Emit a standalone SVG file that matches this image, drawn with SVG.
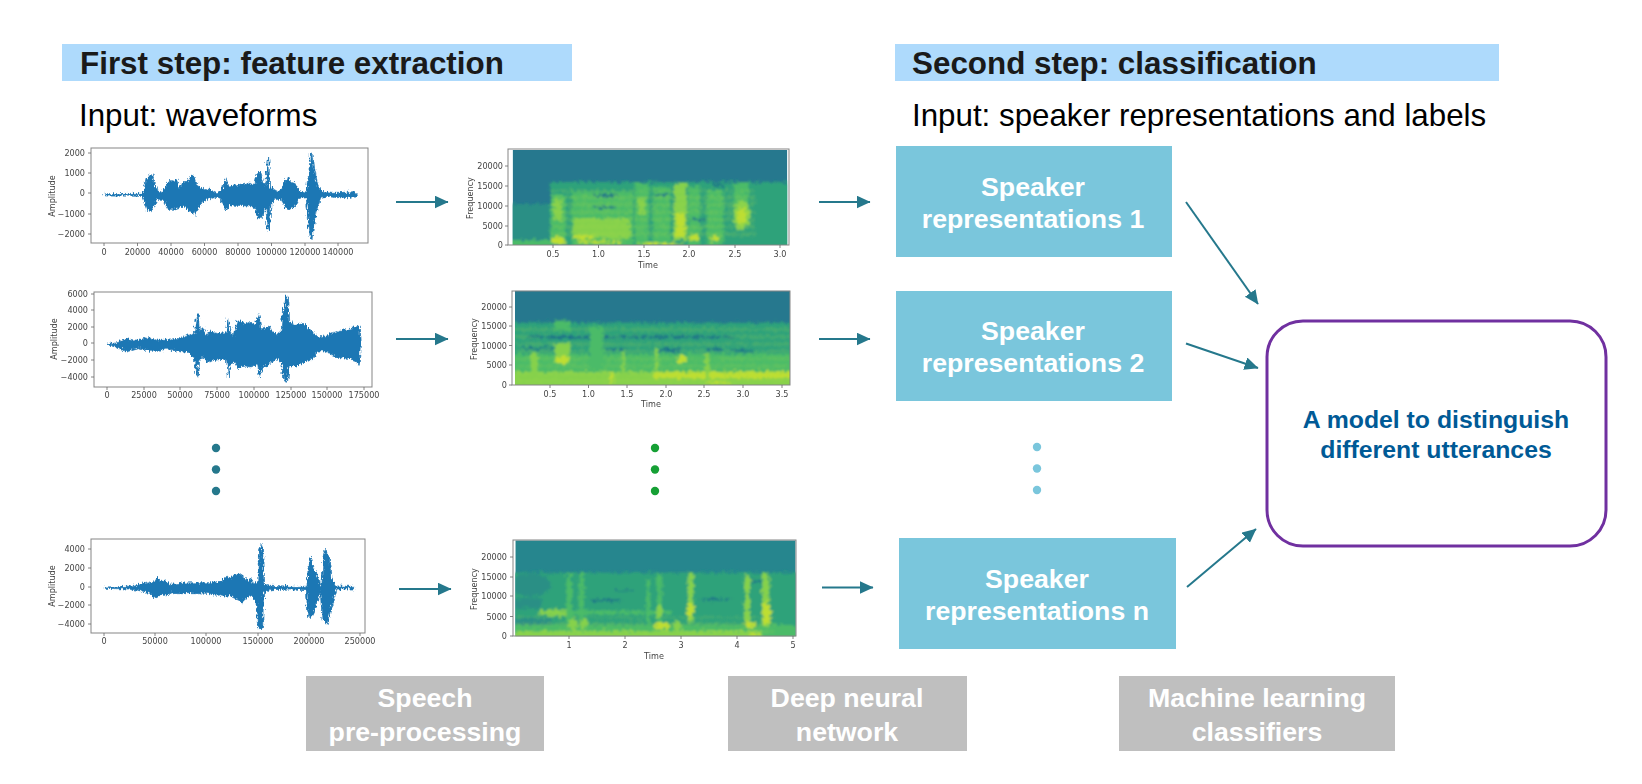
<svg xmlns="http://www.w3.org/2000/svg" width="1642" height="784" viewBox="0 0 1642 784">
<style>
text{font-family:"Liberation Sans",Arial,sans-serif}
.hb{fill:#aedafc}
.h{font-size:31.400px;font-weight:700;fill:#1a1a1a}
.i{font-size:31.300px;fill:#000}
.b{fill:#7ac6dc}
.w{font-size:26.700px;font-weight:700;fill:#fff;text-anchor:middle}
.g{fill:#bfbfbf}
.m{font-size:24.800px;font-weight:700;fill:#005a96;text-anchor:middle}
.plot text{font-family:"DejaVu Sans",sans-serif;font-size:8.100px;fill:#444}
.plot .c{text-anchor:middle}
.plot .r{text-anchor:end}
.fr{fill:none;stroke:#858585;stroke-width:1}
.tk{stroke:#666;stroke-width:.8;fill:none}
.wave{fill:#1f77b4;stroke:#1f77b4;stroke-width:2;stroke-linejoin:round;filter:url(#jag)}
.cn{stroke:#25788c;stroke-width:2;fill:none;marker-end:url(#ah)}
.top{fill:#26788e}.bd{fill:#2fa27a}.lo{fill:#2a8f85}.g1{fill:#4cbb68}.g2{fill:#86d14c}.ye{fill:#bede30}.dk{fill:#1f7388}
</style>
<defs>
<marker id="ah" markerUnits="userSpaceOnUse" markerWidth="15" markerHeight="14" refX="13.500" refY="6.500" orient="auto"><path d="M0,0L14,6.500L0,13Z" fill="#25788c"/></marker>
<filter id="b1" x="-5%" y="-5%" width="110%" height="110%">
<feTurbulence type="fractalNoise" baseFrequency="0.09 0.14" numOctaves="2" seed="4" result="n"/>
<feDisplacementMap in="SourceGraphic" in2="n" scale="26" xChannelSelector="R" yChannelSelector="G"/>
<feGaussianBlur stdDeviation="3"/>
</filter>
<filter id="jag" x="-3%" y="-15%" width="106%" height="130%">
<feTurbulence type="turbulence" baseFrequency="0.35 0.05" numOctaves="2" seed="7" result="n"/>
<feDisplacementMap in="SourceGraphic" in2="n" scale="16" xChannelSelector="G" yChannelSelector="R"/>
</filter>
<filter id="b2" x="-2%" y="-5%" width="104%" height="110%"><feGaussianBlur stdDeviation="0.45"/></filter>
<pattern id="st" width="10" height="22" patternUnits="userSpaceOnUse"><rect width="10" height="9" fill="#a8dc48" fill-opacity=".35"/></pattern>
<clipPath id="c1"><rect x="218" y="60" width="824" height="285"/></clipPath>
<clipPath id="c2"><rect x="225" y="482" width="825" height="283"/></clipPath>
<clipPath id="c3"><rect x="226" y="61" width="841" height="288"/></clipPath>
</defs>
<rect width="1642" height="784" fill="#fff"/>

<g id="header-first"><rect class="hb" x="62" y="44" width="510" height="37"/><text class="h" x="80" y="74">First step: feature extraction</text></g>
<g id="input-first"><text class="i" x="79" y="126">Input: waveforms</text></g>
<g id="header-second"><rect class="hb" x="895" y="44" width="604" height="37"/><text class="h" x="912" y="74">Second step: classification</text></g>
<g id="input-second"><text class="i" x="912" y="126">Input: speaker representations and labels</text></g>

<g id="waveform-1" class="plot" filter="url(#b2)">
<path class="wave" transform="translate(30,130) scale(.3333)" d="M220,188L330,187L338,180L345,145L355,132L362,128L368,150L378,178L392,185L402,165L415,148L425,150L438,146L445,170L452,155L470,150L482,130L490,140L497,165L515,172L535,175L555,185L562,183L575,170L582,140L590,165L610,162L650,156L668,160L675,130L685,120L695,150L705,165L708,85L714,85L716,170L725,172L740,180L752,172L765,150L770,135L775,150L790,155L805,180L825,183L833,130L838,70L843,65L848,110L855,150L870,180L900,184L950,184L970,181L977,190L970,196L950,200L900,195L870,198L855,240L848,280L843,325L838,322L832,260L825,198L805,198L790,225L772,237L765,230L750,205L735,205L720,215L716,290L712,300L708,290L705,225L690,262L680,260L672,230L650,225L600,222L585,240L578,225L565,198L555,196L530,205L510,215L497,235L490,250L480,245L460,225L440,230L425,235L410,235L395,205L378,205L368,225L358,242L348,235L338,210L330,193L220,192Z"/>
<rect class="fr" x="91" y="148" width="277" height="95"/>
<path class="tk" d="M88,153h3M88,173h3M88,193h3M88,214h3M88,234h3M104,243v3M137.500,243v3M171,243v3M204.500,243v3M238,243v3M271.500,243v3M305,243v3M338,243v3"/>
<text class="r" x="85" y="156">2000</text><text class="r" x="85" y="176">1000</text><text class="r" x="85" y="196">0</text><text class="r" x="85" y="217">−1000</text><text class="r" x="85" y="237">−2000</text>
<text class="c" x="104" y="255">0</text><text class="c" x="137.500" y="255">20000</text><text class="c" x="171" y="255">40000</text><text class="c" x="204.500" y="255">60000</text><text class="c" x="238" y="255">80000</text><text class="c" x="271.500" y="255">100000</text><text class="c" x="305" y="255">120000</text><text class="c" x="338" y="255">140000</text>
<text class="c" transform="translate(55,196) rotate(-90)">Amplitude</text>
</g>

<g id="waveform-2" class="plot" filter="url(#b2)">
<path class="wave" transform="translate(30,130) scale(.3333)" d="M228,640L245,635L262,630L285,622L295,625L320,628L350,620L380,625L410,625L440,622L470,612L490,605L497,548L502,548L505,600L515,590L525,612L535,600L565,606L585,605L592,562L597,600L605,615L618,570L630,570L640,580L655,572L670,580L683,545L690,590L700,590L715,585L722,598L735,610L750,605L755,530L760,535L765,495L770,495L773,570L790,580L815,575L830,590L850,605L860,618L885,615L905,605L925,598L950,596L975,585L985,582L988,640L985,700L975,690L950,682L925,680L905,672L885,660L860,660L840,685L820,695L795,705L775,705L770,750L765,755L758,745L752,695L735,680L715,700L695,710L685,738L680,700L660,708L640,705L620,710L610,690L597,700L592,738L587,690L565,685L540,690L530,695L515,675L503,690L500,735L495,732L490,680L470,665L445,658L410,655L380,658L350,658L320,650L285,660L262,650L245,645Z"/>
<rect class="fr" x="94" y="292" width="278" height="95"/>
<path class="tk" d="M91,294h3M91,310h3M91,327h3M91,343h3M91,360h3M91,377h3M107,387v3M144,387v3M180,387v3M217,387v3M254,387v3M291,387v3M327,387v3M364,387v3"/>
<text class="r" x="88" y="297">6000</text><text class="r" x="88" y="313">4000</text><text class="r" x="88" y="330">2000</text><text class="r" x="88" y="346">0</text><text class="r" x="88" y="363">−2000</text><text class="r" x="88" y="380">−4000</text>
<text class="c" x="107" y="398">0</text><text class="c" x="144" y="398">25000</text><text class="c" x="180" y="398">50000</text><text class="c" x="217" y="398">75000</text><text class="c" x="254" y="398">100000</text><text class="c" x="291" y="398">125000</text><text class="c" x="327" y="398">150000</text><text class="c" x="364" y="398">175000</text>
<text class="c" transform="translate(57,339) rotate(-90)">Amplitude</text>
</g>

<g id="waveform-n" class="plot" filter="url(#b2)">
<path class="wave" transform="translate(30,520) scale(.3333)" d="M220,198L290,196L320,190L340,185L355,182L365,185L375,168L385,178L400,178L420,190L450,186L500,185L540,185L570,180L580,170L600,168L620,155L635,165L650,180L658,170L665,185L680,185L683,85L690,70L695,85L698,190L720,193L780,196L828,196L832,130L838,105L848,145L858,160L868,195L873,190L876,105L882,87L895,105L900,170L915,195L968,196L968,204L915,204L900,260L888,310L880,300L873,295L868,210L858,240L848,270L838,290L830,270L826,206L780,204L720,206L698,215L695,320L690,325L680,318L675,240L660,225L650,228L632,245L620,235L600,225L580,225L560,220L500,215L450,215L420,215L405,225L395,218L370,230L360,218L340,212L320,208L290,204L220,202Z"/>
<rect class="fr" x="91" y="539" width="274" height="94"/>
<path class="tk" d="M88,549h3M88,568h3M88,587h3M88,605h3M88,624h3M104,633v3M155,633v3M206,633v3M258,633v3M309,633v3M360,633v3"/>
<text class="r" x="85" y="552">4000</text><text class="r" x="85" y="571">2000</text><text class="r" x="85" y="590">0</text><text class="r" x="85" y="608">−2000</text><text class="r" x="85" y="627">−4000</text>
<text class="c" x="104" y="644">0</text><text class="c" x="155" y="644">50000</text><text class="c" x="206" y="644">100000</text><text class="c" x="258" y="644">150000</text><text class="c" x="309" y="644">200000</text><text class="c" x="360" y="644">250000</text>
<text class="c" transform="translate(55,586) rotate(-90)">Amplitude</text>
</g>

<g id="spectrogram-1" class="plot" filter="url(#b2)">
<g transform="translate(440,130) scale(.3333)">
<g clip-path="url(#c1)"><rect class="top" x="218" y="60" width="824" height="285"/>
<g filter="url(#b1)">
<rect class="bd" x="330" y="156" width="740" height="220"/>
<rect class="lo" x="190" y="222" width="140" height="150"/>
<rect class="g1" x="190" y="330" width="148" height="30"/>
<rect class="g1" x="332" y="195" width="45" height="150"/><rect class="g2" x="342" y="210" width="24" height="60"/>
<rect class="g1" x="395" y="185" width="185" height="170"/><rect class="g2" x="400" y="265" width="170" height="60"/>
<rect class="g1" x="585" y="160" width="40" height="190"/><rect class="g2" x="595" y="205" width="18" height="50"/>
<rect class="g1" x="640" y="170" width="50" height="180"/>
<rect class="g2" x="702" y="160" width="38" height="170"/><rect class="ye" x="708" y="250" width="28" height="70"/>
<rect class="g1" x="745" y="170" width="35" height="180"/><rect class="g1" x="800" y="180" width="50" height="170"/>
<rect class="g1" x="880" y="160" width="45" height="70"/><ellipse class="g2" cx="905" cy="255" rx="26" ry="45"/><ellipse class="ye" cx="905" cy="258" rx="16" ry="24"/>
<rect x="335" y="180" width="610" height="150" fill="url(#st)" opacity=".6"/>
<ellipse class="dk" cx="495" cy="196" rx="40" ry="5"/><ellipse class="dk" cx="495" cy="232" rx="38" ry="3.500"/><ellipse class="dk" cx="665" cy="194" rx="22" ry="4"/><ellipse class="dk" cx="770" cy="268" rx="30" ry="4"/><ellipse class="dk" cx="835" cy="165" rx="16" ry="6"/>
<ellipse class="ye" cx="355" cy="332" rx="22" ry="10"/><ellipse class="ye" cx="430" cy="322" rx="35" ry="7"/><ellipse class="ye" cx="480" cy="336" rx="70" ry="5"/><ellipse class="ye" cx="660" cy="342" rx="70" ry="3"/><ellipse class="ye" cx="762" cy="322" rx="16" ry="9"/><ellipse class="ye" cx="825" cy="325" rx="18" ry="8"/>
</g>
</g></g>
<rect class="fr" x="508" y="149" width="281" height="96"/>
<path class="tk" d="M505,166h3M505,186h3M505,206h3M505,226h3M505,245h3M553,245v3M598.500,245v3M644,245v3M689,245v3M735,245v3M780,245v3"/>
<text class="r" x="503" y="169">20000</text><text class="r" x="503" y="189">15000</text><text class="r" x="503" y="209">10000</text><text class="r" x="503" y="229">5000</text><text class="r" x="503" y="248">0</text>
<text class="c" x="553" y="257">0.5</text><text class="c" x="598.500" y="257">1.0</text><text class="c" x="644" y="257">1.5</text><text class="c" x="689" y="257">2.0</text><text class="c" x="735" y="257">2.5</text><text class="c" x="780" y="257">3.0</text>
<text class="c" x="648" y="268">Time</text><text class="c" transform="translate(473,198) rotate(-90)">Frequency</text>
</g>

<g id="spectrogram-2" class="plot" filter="url(#b2)">
<g transform="translate(440,130) scale(.3333)">
<g clip-path="url(#c2)"><rect class="top" x="225" y="482" width="825" height="283"/>
<g filter="url(#b1)">
<rect class="bd" x="190" y="578" width="890" height="220"/>
<rect class="g1" x="190" y="672" width="890" height="110"/>
<rect class="g2" x="190" y="725" width="890" height="50"/>
<rect class="ye" x="640" y="725" width="420" height="20"/>
<rect x="225" y="585" width="825" height="180" fill="url(#st)" opacity=".5"/>
<ellipse class="dk" cx="410" cy="622" rx="150" ry="4"/><ellipse class="dk" cx="680" cy="621" rx="210" ry="4"/><ellipse class="dk" cx="300" cy="655" rx="55" ry="3.500"/><ellipse class="dk" cx="690" cy="660" rx="35" ry="6"/><ellipse class="dk" cx="825" cy="658" rx="25" ry="5"/><ellipse class="dk" cx="910" cy="662" rx="40" ry="4"/><ellipse class="dk" cx="520" cy="657" rx="40" ry="3"/>
<rect class="g1" x="342" y="572" width="50" height="30"/><rect class="g2" x="345" y="640" width="45" height="60"/><ellipse class="ye" cx="366" cy="690" rx="20" ry="13"/>
<rect class="g2" x="272" y="670" width="22" height="65"/><rect class="g1" x="450" y="590" width="40" height="130"/>
<rect class="g2" x="545" y="665" width="10" height="70"/><rect class="g2" x="645" y="650" width="10" height="70"/><rect class="g2" x="795" y="670" width="14" height="80"/>
<ellipse class="ye" cx="725" cy="688" rx="14" ry="14"/><rect class="ye" x="510" y="725" width="10" height="35"/><ellipse class="ye" cx="835" cy="758" rx="40" ry="4"/>
</g>
</g></g>
<rect class="fr" x="512" y="291" width="278" height="94"/>
<path class="tk" d="M509,307h3M509,326h3M509,345.500h3M509,365h3M509,385h3M550,385v3M588.500,385v3M627,385v3M666,385v3M704,385v3M743,385v3M782,385v3"/>
<text class="r" x="507" y="310">20000</text><text class="r" x="507" y="329">15000</text><text class="r" x="507" y="348.500">10000</text><text class="r" x="507" y="368">5000</text><text class="r" x="507" y="388">0</text>
<text class="c" x="550" y="397">0.5</text><text class="c" x="588.500" y="397">1.0</text><text class="c" x="627" y="397">1.5</text><text class="c" x="666" y="397">2.0</text><text class="c" x="704" y="397">2.5</text><text class="c" x="743" y="397">3.0</text><text class="c" x="782" y="397">3.5</text>
<text class="c" x="651" y="407">Time</text><text class="c" transform="translate(477,339) rotate(-90)">Frequency</text>
</g>

<g id="spectrogram-n" class="plot" filter="url(#b2)">
<g transform="translate(440,520) scale(.3333)">
<g clip-path="url(#c3)"><rect fill="#26868e" x="226" y="61" width="841" height="288"/>
<g filter="url(#b1)">
<rect class="bd" x="190" y="158" width="910" height="220"/>
<ellipse class="lo" cx="270" cy="195" rx="60" ry="35"/>
<rect class="lo" x="190" y="235" width="115" height="30"/><rect class="lo" x="190" y="295" width="145" height="20"/>
<rect class="g1" x="190" y="315" width="910" height="50"/><rect class="g2" x="200" y="333" width="765" height="24"/>
<rect x="226" y="290" width="780" height="55" fill="url(#st)" opacity=".5"/>
<ellipse class="g2" cx="350" cy="278" rx="55" ry="10"/><rect class="g1" x="395" y="272" width="300" height="11"/>
<rect class="g1" x="380" y="160" width="16" height="150"/><rect class="g1" x="418" y="160" width="14" height="140"/><ellipse class="g2" cx="400" cy="312" rx="14" ry="20"/><ellipse class="g2" cx="432" cy="310" rx="12" ry="15"/>
<rect class="g1" x="620" y="180" width="10" height="140"/><rect class="g1" x="650" y="160" width="16" height="150"/><ellipse class="ye" cx="665" cy="318" rx="26" ry="10"/><ellipse class="g2" cx="658" cy="275" rx="10" ry="22"/><ellipse class="g2" cx="712" cy="318" rx="10" ry="14"/>
<rect class="g2" x="744" y="158" width="16" height="150"/><ellipse class="ye" cx="752" cy="272" rx="12" ry="22"/>
<rect class="g2" x="914" y="165" width="16" height="140"/><ellipse class="ye" cx="930" cy="314" rx="18" ry="11"/><rect class="g2" x="966" y="160" width="22" height="160"/><ellipse class="ye" cx="980" cy="280" rx="14" ry="35"/><ellipse class="ye" cx="945" cy="343" rx="20" ry="5"/>
<ellipse class="dk" cx="500" cy="241" rx="50" ry="4"/><ellipse class="dk" cx="830" cy="238" rx="50" ry="3"/><ellipse class="dk" cx="945" cy="183" rx="16" ry="4"/><ellipse class="dk" cx="550" cy="212" rx="30" ry="2.500"/>
</g>
</g></g>
<rect class="fr" x="513" y="540" width="283" height="96"/>
<path class="tk" d="M510,557h3M510,577h3M510,596h3M510,616.500h3M510,636h3M569,636v3M625,636v3M681,636v3M737,636v3M793,636v3"/>
<text class="r" x="507" y="560">20000</text><text class="r" x="507" y="580">15000</text><text class="r" x="507" y="599">10000</text><text class="r" x="507" y="619.500">5000</text><text class="r" x="507" y="639">0</text>
<text class="c" x="569" y="648">1</text><text class="c" x="625" y="648">2</text><text class="c" x="681" y="648">3</text><text class="c" x="737" y="648">4</text><text class="c" x="793" y="648">5</text>
<text class="c" x="654" y="659">Time</text><text class="c" transform="translate(477,589) rotate(-90)">Frequency</text>
</g>

<g id="speaker-1"><rect class="b" x="896" y="146" width="276" height="111"/><text class="w" x="1033" y="196">Speaker</text><text class="w" x="1033" y="228">representations 1</text></g>
<g id="speaker-2"><rect class="b" x="896" y="291" width="276" height="110"/><text class="w" x="1033" y="340">Speaker</text><text class="w" x="1033" y="372">representations 2</text></g>
<g id="speaker-n"><rect class="b" x="899" y="538" width="277" height="111"/><text class="w" x="1037" y="588">Speaker</text><text class="w" x="1037" y="620">representations n</text></g>
<g id="model"><rect x="1267" y="321" width="339" height="225" rx="36" fill="#fff" stroke="#7030a0" stroke-width="3"/><text class="m" x="1436" y="428">A model to distinguish</text><text class="m" x="1436" y="458">different utterances</text></g>

<g id="stage-preprocessing"><rect class="g" x="306" y="676" width="238" height="75"/><text class="w" x="425" y="707">Speech</text><text class="w" x="425" y="741">pre-processing</text></g>
<g id="stage-dnn"><rect class="g" x="728" y="676" width="239" height="75"/><text class="w" x="847" y="707">Deep neural</text><text class="w" x="847" y="741">network</text></g>
<g id="stage-ml"><rect class="g" x="1119" y="676" width="276" height="75"/><text class="w" x="1257" y="707">Machine learning</text><text class="w" x="1257" y="741">classifiers</text></g>

<g id="dots-wave" fill="#25788c"><circle cx="216" cy="448" r="4.200"/><circle cx="216" cy="469.500" r="4.200"/><circle cx="216" cy="491" r="4.200"/></g>
<g id="dots-spec" fill="#16a035"><circle cx="655" cy="448" r="4.200"/><circle cx="655" cy="469.500" r="4.200"/><circle cx="655" cy="491" r="4.200"/></g>
<g id="dots-repr" fill="#7ac6dc"><circle cx="1037" cy="447" r="4.200"/><circle cx="1037" cy="468.500" r="4.200"/><circle cx="1037" cy="490" r="4.200"/></g>

<g id="connectors">
<line class="cn" x1="396" y1="202" x2="448" y2="202"/>
<line class="cn" x1="396" y1="339" x2="448" y2="339"/>
<line class="cn" x1="399" y1="589" x2="451" y2="589"/>
<line class="cn" x1="819" y1="202" x2="870" y2="202"/>
<line class="cn" x1="819" y1="339" x2="870" y2="339"/>
<line class="cn" x1="822" y1="587.500" x2="873" y2="587.500"/>
<line class="cn" x1="1186" y1="202" x2="1258" y2="304"/>
<line class="cn" x1="1186" y1="343.500" x2="1258" y2="368"/>
<line class="cn" x1="1187" y1="587" x2="1256" y2="529"/>
</g>
</svg>
